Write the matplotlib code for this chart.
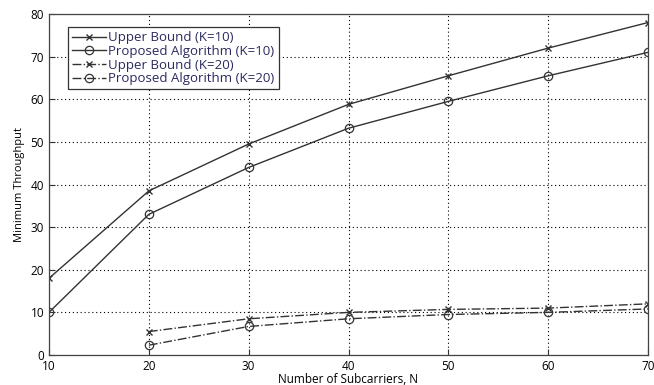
import matplotlib
matplotlib.use("Agg")
import matplotlib.pyplot as plt

plt.rcParams['font.family'] = ['Open Sans', 'DejaVu Sans']

n_sub = [10, 20, 30, 40, 50, 60, 70]
ub_k10 = [18, 38.5, 49.5, 58.8, 65.5, 72, 78]
pa_k10 = [10, 33, 44, 53.2, 59.5, 65.5, 71]
n_sub_k20 = [20, 30, 40, 50, 60, 70]
ub_k20 = [5.5, 8.5, 10, 10.7, 11, 12]
pa_k20 = [2.3, 6.7, 8.5, 9.5, 10, 10.8]

fig = plt.figure(figsize=(6.54, 3.85), dpi=100)
ax = fig.add_axes([49 / 654, 30 / 385, 599 / 654, 341 / 385])

lc = '#333333'
ax.plot(n_sub, ub_k10, '-', color=lc, lw=1.0, marker='x', ms=4.5, mew=1.0,
        label='Upper Bound (K=10)')
ax.plot(n_sub, pa_k10, '-', color=lc, lw=1.0, marker='o', ms=6, mfc='none', mew=0.9,
        label='Proposed Algorithm (K=10)')
ax.plot(n_sub_k20, ub_k20, '-.', color=lc, lw=1.0, marker='x', ms=4.5, mew=1.0,
        label='Upper Bound (K=20)')
ax.plot(n_sub_k20, pa_k20, '-.', color=lc, lw=1.0, marker='o', ms=6, mfc='none', mew=0.9,
        label='Proposed Algorithm (K=20)')

ax.set_xlim(10, 70)
ax.set_ylim(0, 80)
ax.set_xticks(n_sub)
ax.set_yticks(range(0, 81, 10))
ax.tick_params(direction='in', labelsize=8.5, length=4, color='#333333')
ax.grid(True, linestyle=(0, (1, 2.5)), color='black', lw=0.8)
for s in ax.spines.values():
    s.set_color('#444444')
    s.set_linewidth(0.9)

ax.set_xlabel('Number of Subcarriers, N', fontsize=8.5, labelpad=0)
ax.set_ylabel('Minimum Throughput', fontsize=8, labelpad=4)

leg = ax.legend(loc='upper left', fontsize=9.5, fancybox=False, framealpha=1,
                edgecolor='#333333', borderpad=0.3, labelspacing=0.05,
                handlelength=2.6, handletextpad=0.2, bbox_to_anchor=(0.02, 0.98))
leg.get_frame().set_linewidth(0.9)
for t in leg.get_texts():
    t.set_color('#2a2a60')

fig.savefig('out.png', dpi=100)
